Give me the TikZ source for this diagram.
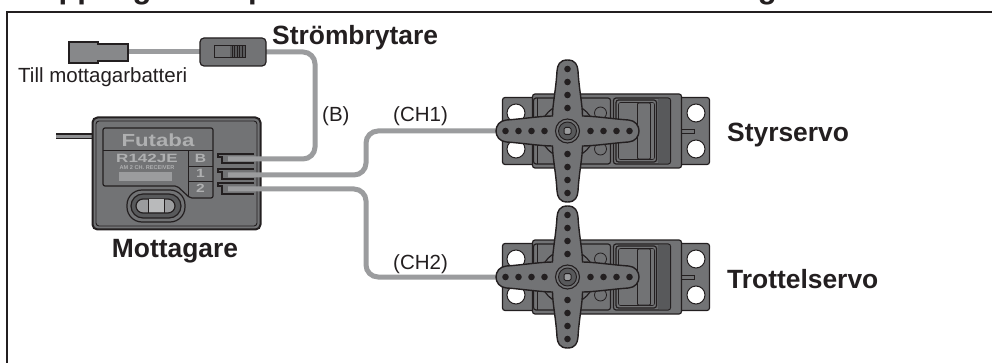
\documentclass[tikz,border=0pt]{standalone}
\usepackage{fontspec}
\setmainfont{Liberation Sans}
\usetikzlibrary{calc,positioning}
\definecolor{bodygray}{HTML}{727375}
\definecolor{wiregray}{HTML}{9B9C9E}
\definecolor{inkdark}{HTML}{231F20}
\definecolor{shadegray}{HTML}{58595B}
\tikzset{>=latex,
bodypart/.style={draw=inkdark, fill=bodygray, line width=1.2pt, rounded corners=2.5pt},
wire/.style={draw=wiregray, line width=5pt, rounded corners=12pt},
boldlabel/.style={font=\fontsize{26.4}{26}\selectfont\bfseries, text=inkdark, inner sep=0pt},
smalllabel/.style={font=\fontsize{20.5}{20}\selectfont, text=inkdark, inner sep=0pt},
paneltext/.style={font=\bfseries, text=wiregray!80!white, inner sep=0pt},
holedot/.style={circle, fill=inkdark, minimum size=6.6pt, inner sep=0pt}
}
% one servo with its horn, origin at the horn centre
\newcommand{\servo}[1]{
\begin{scope}[shift={(#1)}]
\draw[bodypart] (-65,-33.5) rectangle (142,33.5);
\draw[bodypart, fill=white, line width=1pt] (-51.5,-18) circle (9pt) (-51.5,18) circle (9pt) (128.5,-18) circle (9pt) (128.5,18) circle (9pt);
\draw[inkdark, line width=.9pt] (114,-2) rectangle (127,2);
\draw[bodypart] (-35,-37) rectangle (114,37);
\draw[bodypart] (-34,-33) rectangle (43,33);
\draw[inkdark, line width=.8pt] (-30,-33) -- (-30,33);
\draw[bodypart] (46,-33) rectangle (103,33);
\fill[shadegray, rounded corners=2pt] (90,-32.4) rectangle (102.4,32.4);
\draw[bodypart] (48.5,-31) rectangle (89,31);
\draw[inkdark, line width=.6pt, rounded corners=2pt] (51,-28.5) rectangle (87,28.5);
\draw[bodypart, rounded corners=1pt, line width=.9pt] (70,-28) rectangle (83,28);
\draw[inkdark, fill=bodygray, line width=.8pt] (33,-18) circle (6pt) (33,18) circle (6pt);
\draw[bodypart] (0,0) circle (27pt);
\draw[bodypart, line width=1.4pt, rounded corners=0pt]
(0,-71) .. controls (-8,-71) and (-10,-66) .. (-10.5,-60)
.. controls (-11.5,-42) and (-15,-26) .. (-15,-15)
.. controls (-26,-15) and (-46,-12) .. (-61,-11)
.. controls (-75,-10) and (-75,10) .. (-61,11)
.. controls (-46,12) and (-26,15) .. (-15,15)
.. controls (-15,26) and (-11.5,42) .. (-10.5,60)
.. controls (-10,66) and (-8,71) .. (0,71)
.. controls (8,71) and (10,66) .. (10.5,60)
.. controls (11.5,42) and (15,26) .. (15,15)
.. controls (26,15) and (46,12) .. (61,11)
.. controls (75,10) and (75,-10) .. (61,-11)
.. controls (46,-12) and (26,-15) .. (15,-15)
.. controls (15,-26) and (11.5,-42) .. (10.5,-60)
.. controls (10,-66) and (8,-71) .. (0,-71) -- cycle;
\foreach \d in {23,36,49,62}{
\node[holedot] at (0,-\d) {};
\node[holedot] at (0,\d) {};
\node[holedot] at (\d,0) {};
\node[holedot] at (-\d,0) {};
}
\draw[inkdark, fill=bodygray, line width=1.1pt] (0,0) circle (12pt);
\draw[inkdark, fill=shadegray, line width=.9pt] (0,0) circle (9pt);
\draw[inkdark, fill=wiregray, line width=1pt, rounded corners=1.5pt] (-3.5,-3.5) rectangle (3.5,3.5);
\end{scope}
}
\begin{document}
\begin{tikzpicture}[x=1pt,y=-1pt]
\useasboundingbox (0,0) rectangle (992,363);
\fill[white] (0,0) rectangle (992,363);
% title, cut off by the top edge
\begin{scope}
\clip (0,0) rectangle (992,11);
\node[anchor=base west, font=\fontsize{31}{31}\selectfont\bfseries, text=inkdark, inner sep=0pt] (title) at (17,-1.5) {Kopplingsexempel för servon och batteri till mottagare};
\end{scope}
\draw[inkdark, line width=2.3pt] (7,363) -- (7,12.2) -- (992,12.2);
% antenna
\draw[inkdark, line width=6pt] (56,136) -- (93,136);
\draw[wiregray!70!bodygray, line width=2.6pt] (56,136.6) -- (93,136.6);
% receiver
\draw[bodypart, line width=2pt, rounded corners=5pt] (92.5,117.5) rectangle (260.5,229.5);
\draw[inkdark, line width=.9pt, rounded corners=3pt] (96,121) rectangle (257,226);
\draw[inkdark, line width=1.2pt, rounded corners=2pt] (103,128) -- (213,128) -- (213,198) -- (190,198) -- (177,186) -- (103,186) -- cycle;
\draw[inkdark, line width=.9pt] (103,150.5) -- (213,150.5) (188,150.5) -- (188,196) (188,166) -- (213,166) (188,181) -- (213,181);
\node[paneltext, font=\fontsize{17.5}{17}\selectfont\bfseries, xscale=1.27] (brand) at (158,140) {Futaba};
\node[paneltext, font=\fontsize{12}{12}\selectfont\bfseries, xscale=1.42] (model) at (147,158.5) {R142JE};
\node[paneltext, font=\fontsize{5.6}{6}\selectfont\bfseries] (sub) at (147,167.5) {AM 2 CH. RECEIVER};
\fill[wiregray] (119,172) rectangle (172,181);
\node[paneltext, font=\fontsize{12}{12}\selectfont\bfseries, xscale=1.3] (labb) at (200.5,158.5) {B};
\node[paneltext, font=\fontsize{12}{12}\selectfont\bfseries, xscale=1.3] (lab1) at (200.5,173.5) {1};
\node[paneltext, font=\fontsize{12}{12}\selectfont\bfseries, xscale=1.3] (lab2) at (200.5,188.5) {2};
\foreach \y/\h in {154/9,169/10,183/11}{
\draw[inkdark, line width=1.5pt] (254,\y) -- (218,\y) -- (218,\y+3) -- (222,\y+3) -- (222,\y+\h) -- (254,\y+\h);
}
\draw[inkdark, fill=bodygray, line width=1.2pt, rounded corners=15pt] (127,190) rectangle (185,222);
\draw[inkdark, fill=shadegray, line width=1.2pt, rounded corners=12pt] (131,194) rectangle (181,218);
\draw[inkdark, fill=wiregray, line width=1.2pt, rounded corners=7pt] (136,199) rectangle (175,213);
\fill[wiregray!70!white] (148,199.5) rectangle (164,212.5);
\draw[inkdark, line width=.8pt] (148,199) -- (148,213) (164,199) -- (164,213);
% wires
\coordinate (plugend) at (128,52);
\coordinate (switchl) at (201,52);
\coordinate (switchr) at (265,52);
\coordinate (portb) at (228,159);
\coordinate (port1) at (228,175);
\coordinate (port2) at (228,189);
\coordinate (ch1end) at (498,131);
\coordinate (ch2end) at (498,277);
\draw[wire] (plugend) -- (switchl);
\draw[wire] (switchr) -- (315,52) -- (315,159) -- (portb);
\draw[wire] (port1) -- (366,175) -- (366,131) -- (ch1end);
\draw[wire] (port2) -- (366,189) -- (366,277) -- (ch2end);
% plug
\draw[bodypart, rounded corners=0pt, fill=bodygray!85!white] (69,42) -- (98,42) -- (98,44) -- (128,44) -- (128,61) -- (98,61) -- (98,63) -- (69,63) -- cycle;
% switch
\node[bodypart, rounded corners=4pt, minimum width=66pt, minimum height=28pt, inner sep=0pt] (switch) at (233,52) {};
\draw[inkdark, line width=1.1pt] (214.5,45.5) rectangle (245.5,57.5);
\fill[shadegray] (230,46) rectangle (245,57);
\foreach \x in {232,234.5,...,244}{ \draw[inkdark, line width=.5pt] (\x,46) -- (\x,57); }
% servos
\servo{567.5,131}
\servo{567.5,277}
% labels
\node[boldlabel, anchor=base west] (lblswitch) at (272,45) {Strömbrytare};
\node[smalllabel, anchor=base west] (lblbatt) at (18,83) {Till mottagarbatteri};
\node[boldlabel, anchor=base] (lblrx) at (175,257) {Mottagare};
\node[smalllabel, anchor=base west] (lblb) at (322,122) {(B)};
\node[smalllabel, anchor=base west] (lblch1) at (393,122) {(CH1)};
\node[smalllabel, anchor=base west] (lblch2) at (393,269.5) {(CH2)};
\node[boldlabel, anchor=base west] (lblstyr) at (727,142) {Styrservo};
\node[boldlabel, anchor=base west] (lbltrot) at (727,288) {Trottelservo};
\end{tikzpicture}
\end{document}
